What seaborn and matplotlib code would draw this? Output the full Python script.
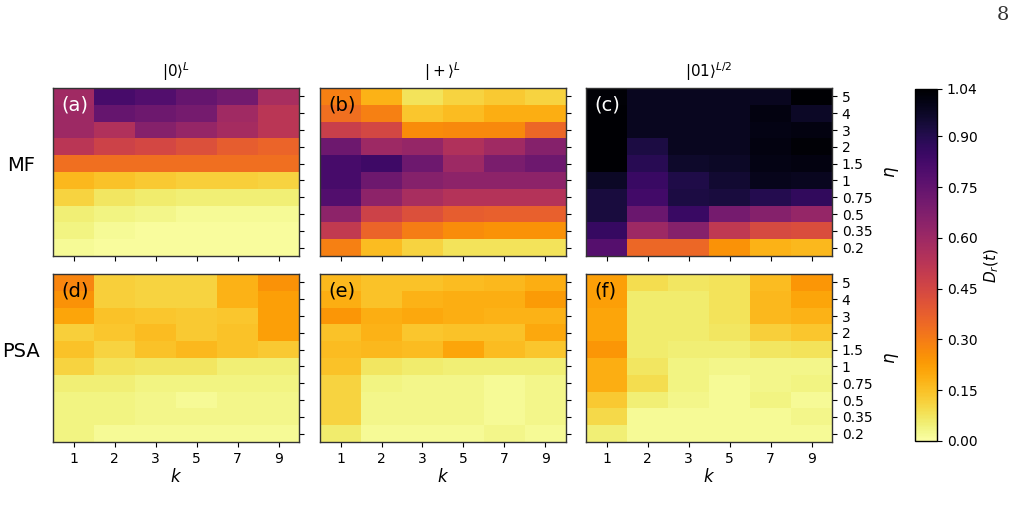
import numpy as np
import matplotlib
matplotlib.use("Agg")
import matplotlib.pyplot as plt
import seaborn as sns

# axes values
k_vals = ["1", "2", "3", "5", "7", "9"]
eta_vals = ["5", "4", "3", "2", "1.5", "1", "0.75", "0.5", "0.35", "0.2"]  # top -> bottom

# D_r(t) per panel, rows follow eta_vals, columns follow k_vals
mf_zero = [
    [0.59, 0.82, 0.79, 0.74, 0.71, 0.57],
    [0.60, 0.74, 0.72, 0.70, 0.59, 0.52],
    [0.60, 0.55, 0.66, 0.62, 0.58, 0.52],
    [0.52, 0.47, 0.45, 0.42, 0.38, 0.36],
    [0.33, 0.33, 0.33, 0.33, 0.33, 0.33],
    [0.17, 0.15, 0.13, 0.12, 0.12, 0.11],
    [0.11, 0.07, 0.06, 0.05, 0.05, 0.05],
    [0.05, 0.04, 0.03, 0.02, 0.02, 0.02],
    [0.04, 0.02, 0.01, 0.01, 0.01, 0.01],
    [0.02, 0.01, 0.01, 0.01, 0.01, 0.01],
]
mf_plus = [
    [0.29, 0.18, 0.08, 0.11, 0.13, 0.11],
    [0.33, 0.29, 0.14, 0.16, 0.19, 0.19],
    [0.48, 0.45, 0.26, 0.27, 0.27, 0.35],
    [0.72, 0.60, 0.62, 0.55, 0.59, 0.66],
    [0.82, 0.84, 0.72, 0.60, 0.69, 0.72],
    [0.82, 0.72, 0.66, 0.64, 0.64, 0.64],
    [0.79, 0.64, 0.57, 0.54, 0.54, 0.54],
    [0.64, 0.47, 0.42, 0.38, 0.37, 0.37],
    [0.50, 0.36, 0.30, 0.26, 0.25, 0.25],
    [0.29, 0.16, 0.11, 0.08, 0.08, 0.08],
]
mf_neel = [
    [1.03, 0.98, 0.98, 0.98, 0.98, 1.04],
    [1.04, 0.98, 0.98, 0.98, 1.01, 0.97],
    [1.04, 0.98, 0.98, 0.98, 1.00, 1.01],
    [1.04, 0.92, 0.98, 0.98, 1.01, 1.03],
    [1.04, 0.89, 0.96, 0.97, 1.00, 1.01],
    [0.97, 0.85, 0.91, 0.95, 0.99, 0.98],
    [0.93, 0.83, 0.92, 0.93, 0.90, 0.87],
    [0.93, 0.73, 0.85, 0.70, 0.66, 0.62],
    [0.86, 0.60, 0.66, 0.51, 0.44, 0.43],
    [0.78, 0.35, 0.35, 0.25, 0.18, 0.17],
]
psa_zero = [
    [0.28, 0.12, 0.11, 0.11, 0.18, 0.25],
    [0.25, 0.12, 0.11, 0.11, 0.18, 0.22],
    [0.21, 0.15, 0.14, 0.13, 0.14, 0.22],
    [0.12, 0.14, 0.16, 0.13, 0.15, 0.22],
    [0.15, 0.11, 0.15, 0.17, 0.15, 0.13],
    [0.11, 0.08, 0.07, 0.07, 0.05, 0.05],
    [0.05, 0.05, 0.04, 0.04, 0.04, 0.04],
    [0.04, 0.04, 0.03, 0.02, 0.03, 0.03],
    [0.04, 0.04, 0.03, 0.03, 0.03, 0.03],
    [0.04, 0.02, 0.02, 0.02, 0.02, 0.02],
]
psa_plus = [
    [0.17, 0.15, 0.15, 0.16, 0.17, 0.19],
    [0.19, 0.15, 0.18, 0.19, 0.19, 0.23],
    [0.24, 0.19, 0.20, 0.19, 0.18, 0.18],
    [0.15, 0.18, 0.14, 0.15, 0.15, 0.20],
    [0.16, 0.17, 0.16, 0.21, 0.16, 0.14],
    [0.15, 0.07, 0.06, 0.05, 0.05, 0.05],
    [0.11, 0.04, 0.03, 0.03, 0.02, 0.03],
    [0.11, 0.03, 0.03, 0.03, 0.02, 0.03],
    [0.11, 0.03, 0.03, 0.03, 0.02, 0.03],
    [0.06, 0.02, 0.02, 0.02, 0.03, 0.02],
]
psa_neel = [
    [0.22, 0.09, 0.07, 0.08, 0.16, 0.24],
    [0.22, 0.06, 0.06, 0.08, 0.17, 0.21],
    [0.21, 0.06, 0.06, 0.08, 0.17, 0.18],
    [0.21, 0.06, 0.06, 0.07, 0.12, 0.14],
    [0.24, 0.06, 0.05, 0.05, 0.07, 0.08],
    [0.19, 0.07, 0.04, 0.03, 0.03, 0.03],
    [0.19, 0.09, 0.04, 0.02, 0.03, 0.04],
    [0.13, 0.05, 0.03, 0.02, 0.04, 0.02],
    [0.10, 0.02, 0.02, 0.02, 0.02, 0.03],
    [0.05, 0.02, 0.02, 0.02, 0.02, 0.02],
]

col_titles = [r"$|0\rangle^L$", r"$|+\rangle^L$", r"$|01\rangle^{L/2}$"]
row_names = ["MF", "PSA"]
panel_tags = ["(a)", "(b)", "(c)", "(d)", "(e)", "(f)"]
panels = [mf_zero, mf_plus, mf_neel, psa_zero, psa_plus, psa_neel]
cbar_ticks = [0.0, 0.15, 0.30, 0.45, 0.60, 0.75, 0.90, 1.04]

VMAX = 1.04
W, H = 1015, 527
fig = plt.figure(figsize=(W / 100, H / 100), dpi=100)

lefts = [53, 320, 586]
tops = [88, 274]
pw, ph = 246, 168

def fig_rect(x, y, w, h):
    return [x / W, 1 - (y + h) / H, w / W, h / H]

for idx, data in enumerate(panels):
    r, c = divmod(idx, 3)
    ax = fig.add_axes(fig_rect(lefts[c], tops[r], pw, ph))
    sns.heatmap(np.array(data), ax=ax, cmap="inferno_r", vmin=0, vmax=VMAX,
                cbar=False, xticklabels=k_vals, yticklabels=eta_vals)
    for sp in ax.spines.values():
        sp.set_visible(True)
        sp.set_color("#333333")
        sp.set_linewidth(1.0)
    ax.yaxis.tick_right()
    ax.tick_params(axis="y", rotation=0, labelsize=10, length=3.5)
    ax.tick_params(axis="x", rotation=0, labelsize=10, length=3.5)
    if c != 2:
        ax.set_yticklabels([])
    else:
        ax.yaxis.set_label_position("right")
        ax.set_ylabel(r"$\eta$", fontsize=12, labelpad=8)
    if r == 0:
        ax.set_xticklabels([])
        ax.set_title(col_titles[c], fontsize=11, pad=8)
    else:
        ax.set_xlabel(r"$k$", fontsize=12, labelpad=2)
    dark = idx in (0, 2)
    ax.text(0.035, 0.955, panel_tags[idx], transform=ax.transAxes,
            fontsize=14, va="top", ha="left",
            color="white" if dark else "black")
    if c == 0:
        ax.text(-0.13, 0.54, row_names[r], transform=ax.transAxes,
                fontsize=14, ha="center", va="center")

cax = fig.add_axes(fig_rect(915, 89, 22, 352))
sm = plt.cm.ScalarMappable(cmap="inferno_r", norm=plt.Normalize(0, VMAX))
cb = fig.colorbar(sm, cax=cax, ticks=cbar_ticks)
cb.ax.set_yticklabels([f"{t:.2f}" for t in cbar_ticks])
cb.ax.tick_params(labelsize=10, length=3.5)
cb.set_label(r"$D_r(t)$", fontsize=11)
cb.outline.set_linewidth(1.0)

fig.text(1003 / W, 1 - 15 / H, "8", fontsize=14, family="DejaVu Serif",
         ha="center", va="center", color="#333333")

fig.savefig("out.png", dpi=100)
